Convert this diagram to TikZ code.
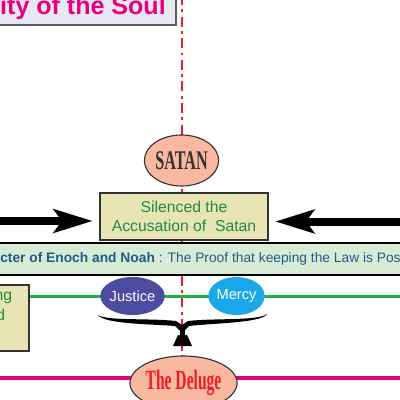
\documentclass[tikz,border=0pt]{standalone}
\usepackage{fontspec}
\setmainfont{Liberation Sans}
\newfontfamily\narrowserif[FakeStretch=0.6]{Liberation Serif}
\newfontfamily\narrowerserif[FakeStretch=0.56]{Liberation Serif}
\usetikzlibrary{shapes.geometric,arrows.meta}
\definecolor{lavender}{HTML}{E9E7F3}
\definecolor{rose}{HTML}{E6007E}
\definecolor{axisred}{HTML}{EE1D25}
\definecolor{salmon}{HTML}{F9B9A0}
\definecolor{khaki}{HTML}{E8E4B4}
\definecolor{leaf}{HTML}{1C8B4D}
\definecolor{mint}{HTML}{D7EBD5}
\definecolor{lawink}{HTML}{1E5D8B}
\definecolor{grass}{HTML}{1DB14B}
\definecolor{justblue}{HTML}{4B4BA0}
\definecolor{sky}{HTML}{1AA8E8}
\definecolor{frame}{HTML}{333333}

\begin{document}
\begin{tikzpicture}[x=0.025cm,y=-0.025cm,
        oval/.style={ellipse,inner sep=0pt},
        panel/.style={rectangle,draw=frame,fill=khaki,line width=1.1pt,inner sep=0pt},
        virtue/.style={oval,minimum width=1.125cm,minimum height=0.95cm,text=white,
          font=\fontsize{10.4}{12}\selectfont},
        axis/.style={axisred,line width=1.6pt,dash pattern=on 0.25cm off 0.11cm on 0.07cm off 0.11cm},
        fatarrow/.style={black,line width=0.2cm,shorten >=0.16cm,
          -{Stealth[length=0.97cm,width=0.58cm,inset=0.2cm]}}]
        \useasboundingbox (0,0) rectangle (400,400);
        \clip (0,0) rectangle (400,400);
        % vertical axis and the bottom line
        \coordinate (axtop) at (182,-5);
        \coordinate (axbot) at (182,405);
        \draw[axis] (axtop)--(axbot);
        \coordinate (mleft) at (-5,378);
        \coordinate (mright) at (405,378);
        \draw[rose,line width=2.9pt] (mleft)--(mright);
        % title
        \node[rectangle,draw=frame!80,fill=lavender,line width=1pt,
          minimum width=4.65cm,minimum height=1.125cm] (titlebox) at (83,2.5) {};
        \node[anchor=base east,inner sep=0pt,text=rose,
          font=\bfseries\fontsize{17.8}{20}\selectfont] (title) at (166,15) {ity of the Soul};
        % satan and the box
        \node[oval,draw=frame,fill=salmon,line width=0.8pt,minimum width=1.775cm,
          minimum height=1.275cm,text=frame,
          font=\narrowserif\bfseries\fontsize{19.2}{21}\selectfont] (satan) at (181.5,160.5) {SATAN};
        \node[panel,minimum width=4.2cm,minimum height=1.175cm,align=center,text=leaf,
          font=\fontsize{11.2}{13.5}\selectfont] (silenced) at (184,216.5)
          {Silenced the\\Accusation of \ Satan};
        \coordinate (lfar) at (-5,221);
        \coordinate (rfar) at (405,221.5);
        \draw[fatarrow] (lfar)--(lfar -| silenced.west);
        \draw[fatarrow] (rfar)--(rfar -| silenced.east);
        % band
        \node[rectangle,draw=black,fill=mint,line width=1.2pt,
          minimum width=10.5cm,minimum height=0.8cm] (band) at (200,259) {};
        \node[anchor=base west,inner sep=0pt,text=lawink,
          font=\fontsize{9.8}{11}\selectfont] (proof) at (0,262.5)
          {\textbf{cter of Enoch and Noah} : The Proof that keeping the Law is Poss};
        % left box and the balance
        \node[panel,minimum width=0.975cm,minimum height=1.65cm] (leftbox) at (9.5,318) {};
        \node[anchor=base east,inner sep=0pt,text=leaf,font=\fontsize{11.2}{13.5}\selectfont]
          (ng) at (12.5,300) {ng};
        \node[anchor=base east,inner sep=0pt,text=leaf,font=\fontsize{11.2}{13.5}\selectfont]
          (d) at (5.5,320) {d};
        \coordinate (gend) at (405,296.5);
        \draw[grass,line width=2.8pt] (gend)--(gend -| leftbox.east);
        \node[virtue,fill=justblue] (justice) at (132.5,296) {Justice};
        \node[virtue,fill=sky] (mercy) at (236.5,296) {Mercy};
        \fill[black] (98,315) .. controls (106,321) and (150,318) .. (176,321)
          -- (182,325) -- (188,321) .. controls (214,318) and (258,321) .. (267,314)
          .. controls (262,323) and (214,323) .. (189,326) -- (185,330) -- (179,330)
          -- (175,326) .. controls (150,324) and (104,324) .. cycle;
        \fill[black] (180,328) rectangle (184.5,337);
        \fill[black] (173,346) -- (178,335) -- (187,335) -- (192,346) -- cycle;
        % deluge
        \node[oval,draw=frame,fill=salmon,line width=0.8pt,minimum width=1.925cm,
          minimum height=1.35cm,text=axisred,
          font=\narrowerserif\bfseries\fontsize{19.8}{21}\selectfont] (deluge) at (183.5,383) {The Deluge};
      \end{tikzpicture}
\end{document}
